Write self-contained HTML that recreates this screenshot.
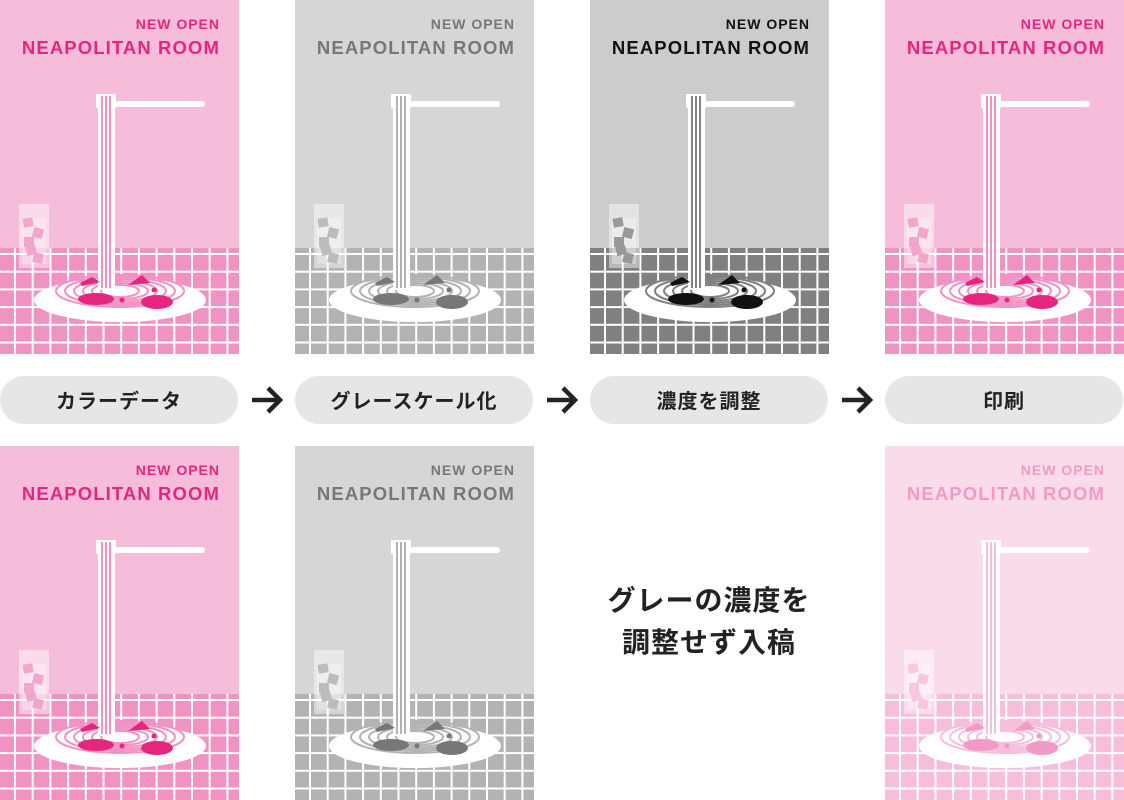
<!DOCTYPE html>
<html><head><meta charset="utf-8"><style>
body{margin:0;width:1124px;height:800px;background:#fff;position:relative;overflow:hidden;font-family:"Liberation Sans","Noto Sans CJK JP",sans-serif}
.p{position:absolute;width:239px;height:354px}
.pill{position:absolute;top:376px;width:238px;height:48px;border-radius:24px;background:#e6e6e6;color:#222;font-weight:bold;font-size:20px;letter-spacing:1px;line-height:48px;text-align:center;font-family:"Noto Sans CJK JP",sans-serif}
.arr{position:absolute;top:385px}
.mid{position:absolute;left:570px;top:578px;width:278px;text-align:center;font-family:"Noto Sans CJK JP",sans-serif;font-weight:bold;font-size:28px;letter-spacing:1px;line-height:42px;color:#222}
</style></head><body>
<div id="c"></div>
<div class="pill" style="left:0">カラーデータ</div>
<div class="pill" style="left:295px">グレースケール化</div>
<div class="pill" style="left:590px">濃度を調整</div>
<div class="pill" style="left:885px">印刷</div>
<svg class="arr" style="left:250px" width="34" height="30"><path d="M2 15H30M18 3L30 15L18 27" stroke="#222" stroke-width="4.5" fill="none"/></svg>
<svg class="arr" style="left:545px" width="34" height="30"><path d="M2 15H30M18 3L30 15L18 27" stroke="#222" stroke-width="4.5" fill="none"/></svg>
<svg class="arr" style="left:840px" width="34" height="30"><path d="M2 15H30M18 3L30 15L18 27" stroke="#222" stroke-width="4.5" fill="none"/></svg>
<div class="mid">グレーの濃度を<br>調整せず入稿</div>
<script>
function poster(x,y,bg,tile,txt,dark,cube){
 let g='';
 for(let i=0;i<14;i++){let vx=15+i*17.7;g+=`<rect x="${vx-1}" y="248" width="2" height="106" fill="#fff"/>`;}
 for(let j=0;j<6;j++){let hy=254+j*17.7;g+=`<rect x="0" y="${hy-1}" width="239" height="2" fill="#fff"/>`;}
 let sp='';
 for(let k=0;k<6;k++){sp+=`<ellipse cx="120" cy="291" rx="${64-k*9}" ry="${16-k*2}" fill="none" stroke="${tile}" stroke-width="2"/>`;}
 let s=`<svg class="p" style="left:${x}px;top:${y}px" viewBox="0 0 239 354">
 <rect width="239" height="354" fill="${bg}"/>
 <rect y="248" width="239" height="106" fill="${tile}"/>${g}
 <text x="220" y="29" text-anchor="end" font-family="Liberation Sans" font-weight="bold" font-size="14" fill="${txt}" letter-spacing="1">NEW OPEN</text>
 <text x="220" y="54" text-anchor="end" font-family="Liberation Sans" font-weight="bold" font-size="18.5" fill="${txt}" letter-spacing="1.1">NEAPOLITAN ROOM</text>
 <rect x="19" y="204" width="30" height="64" fill="#fff" opacity="0.45"/>
 <rect x="22" y="218" width="24" height="46" fill="#fff" opacity="0.3"/>
 <rect x="23" y="218" width="10" height="9" fill="${cube}" transform="rotate(-10 28 222)"/><rect x="33" y="228" width="10" height="10" fill="${cube}" transform="rotate(15 38 233)"/><rect x="24" y="237" width="10" height="10" fill="${cube}"/><rect x="26" y="246" width="10" height="9" fill="${cube}" transform="rotate(-15 31 250)"/><rect x="33" y="253" width="10" height="10" fill="${cube}" transform="rotate(12 38 258)"/>
 <rect x="115" y="101" width="90" height="6" rx="3" fill="#fff"/>
 <rect x="96" y="94" width="20" height="14" fill="#fff"/>
 <ellipse cx="120" cy="300" rx="86" ry="22" fill="#fff"/>
 ${sp}
 <rect x="98" y="94" width="17" height="196" fill="#fff"/>
 <rect x="101" y="96" width="2" height="192" fill="${tile}"/><rect x="105" y="96" width="2" height="192" fill="${tile}"/><rect x="109" y="96" width="2" height="192" fill="${tile}"/>
 <ellipse cx="96" cy="299" rx="18" ry="6" fill="${dark}"/><ellipse cx="157" cy="302" rx="16" ry="7" fill="${dark}"/>
 <path d="M80 283l12-6 8 5-18 4z" fill="${dark}"/><path d="M128 285l14-10 8 8z" fill="${dark}"/>
 <circle cx="122" cy="300" r="2.5" fill="${dark}"/><circle cx="154" cy="290" r="2.5" fill="${dark}"/>
 </svg>`;
 document.getElementById('c').insertAdjacentHTML('beforeend',s);
}
poster(0,0,'#f5bdd9','#f093c3','#e5267f','#e5267f','#f3a6cc');
poster(295,0,'#d6d6d6','#b3b3b3','#777','#777','#bcbcbc');
poster(590,0,'#cccccc','#808080','#111','#111','#999');
poster(885,0,'#f5bdd9','#f093c3','#e5267f','#e5267f','#f3a6cc');
poster(0,446,'#f5bdd9','#f093c3','#e5267f','#e5267f','#f3a6cc');
poster(295,446,'#d6d6d6','#b3b3b3','#777','#777','#bcbcbc');
poster(885,446,'#fadbea','#f7bedb','#f29ac6','#f29ac6','#f8c6df');
</script>
</body></html>
